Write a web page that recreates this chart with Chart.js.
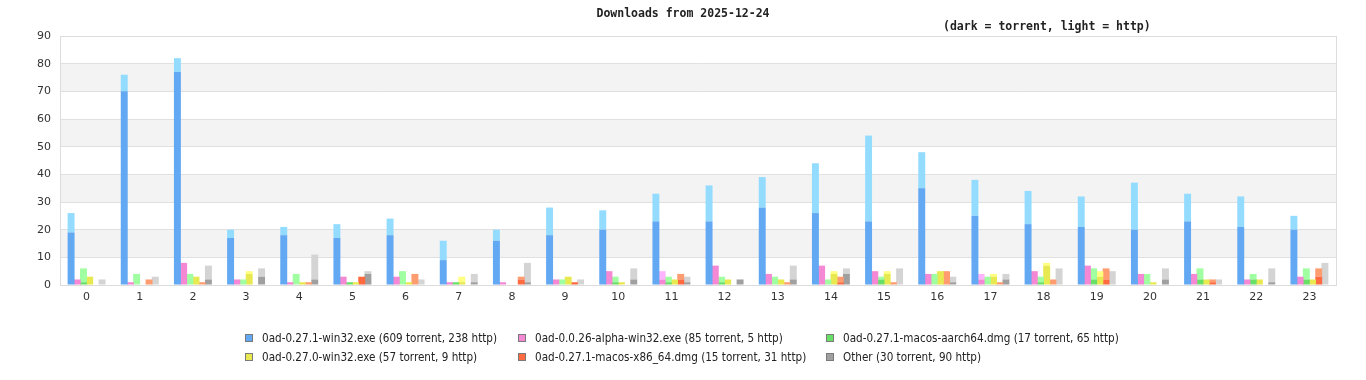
<!DOCTYPE html>
<html lang="en">
<head>
    <meta charset="UTF-8">
    <title>downloads</title>
    <script src="https://cdn.jsdelivr.net/npm/chart.js"></script>
    <style>
        body { margin: 0; background: #fff; }
        #wrap { position: relative; width: 1366px; height: 380px; }
        .head { position: absolute; font: bold 11.5px "DejaVu Sans Mono", monospace; color: #222; white-space: nowrap; line-height: 14px; }
        #legend { position: absolute; left: 245px; top: 331px; display: grid; grid-template-columns: 273px 308px auto; row-gap: 5px;
                  font: 11.6px "DejaVu Sans Condensed", "DejaVu Sans", sans-serif; font-stretch: condensed; color: #222; }
        #legend div { display: flex; align-items: center; height: 14px; white-space: nowrap; }
        #legend span.sw { width: 8px; height: 8px; margin-right: 9px; border: 1px solid #7a7a7a; box-sizing: border-box; }
    </style>
</head>
<body>
<div id="wrap">
    <canvas id="dlChart" width="1366" height="380"></canvas>
    <div class="head" style="left:0;width:1366px;text-align:center;top:6px">Downloads from 2025-12-24</div>
    <div class="head" style="left:943px;top:19px">(dark = torrent, light = http)</div>
    <div id="legend"></div>
</div>
<script>
    // hours of the day
    const hours = ['0','1','2','3','4','5','6','7','8','9','10','11','12','13','14','15','16','17','18','19','20','21','22','23'];
    const yTicks = [0, 10, 20, 30, 40, 50, 60, 70, 80, 90];

    const files = [
        '0ad-0.27.1-win32.exe (609 torrent, 238 http)',
        '0ad-0.0.26-alpha-win32.exe (85 torrent, 5 http)',
        '0ad-0.27.1-macos-aarch64.dmg (17 torrent, 65 http)',
        '0ad-0.27.0-win32.exe (57 torrent, 9 http)',
        '0ad-0.27.1-macos-x86_64.dmg (15 torrent, 31 http)',
        'Other (30 torrent, 90 http)'
    ];

    const win32Torrent   = [19,70,77,17,18,17,18,9,16,18,20,23,23,28,26,23,35,25,22,21,20,23,21,20];
    const win32Http      = [7,6,5,3,3,5,6,7,4,10,7,10,13,11,18,31,13,13,12,11,17,10,11,5];
    const alphaTorrent   = [2,1,8,2,1,3,3,1,1,2,5,2,7,4,7,5,4,2,5,7,4,4,2,3];
    const alphaHttp      = [0,0,0,0,0,0,0,0,0,0,0,3,0,0,0,0,0,2,0,0,0,0,0,0];
    const aarchTorrent   = [1,0,0,0,0,1,0,1,0,0,1,1,1,0,0,2,0,0,1,2,0,2,2,2];
    const aarchHttp      = [5,4,4,2,4,0,5,0,0,2,2,2,2,3,2,1,4,3,2,4,4,4,2,4];
    const oldWinTorrent  = [3,0,3,4,1,1,1,1,0,3,1,2,2,2,4,4,5,3,7,3,1,2,2,2];
    const oldWinHttp     = [0,0,0,1,0,0,0,2,0,0,0,0,0,0,1,1,0,1,1,2,0,0,0,0];
    const x86Torrent     = [0,0,0,0,0,3,0,0,2,1,0,2,0,0,1,0,0,0,0,2,0,1,0,3];
    const x86Http        = [0,2,1,0,1,0,4,0,1,0,0,2,0,1,2,1,5,1,2,4,0,1,0,3];
    const otherTorrent   = [0,0,2,3,2,4,0,1,1,0,2,1,2,2,4,0,1,2,0,0,2,0,1,0];
    const otherHttp      = [2,3,5,3,9,1,2,3,7,2,4,2,0,5,2,6,2,2,6,5,4,2,5,8];

    const torrentData = [win32Torrent, alphaTorrent, aarchTorrent, oldWinTorrent, x86Torrent, otherTorrent];
    const httpData = [win32Http, alphaHttp, aarchHttp, oldWinHttp, x86Http, otherHttp];
    const darkColors = ['#62a8f2', '#f488d4', '#68e068', '#e8e850', '#ff6a40', '#a0a0a0'];
    const lightColors = ['#94dcff', '#ffb4ff', '#a0ffa0', '#ffff80', '#ff9c70', '#d4d4d4'];

    const datasets = [];
    files.forEach((name, i) => {
        datasets.push({ label: name + ' torrent', data: torrentData[i], backgroundColor: darkColors[i], stack: 's' + i });
        datasets.push({ label: name + ' http', data: httpData[i], backgroundColor: lightColors[i], stack: 's' + i });
    });

    // alternating grey bands + frame around the plot
    const bands = {
        id: 'bands',
        beforeDraw(chart) {
            const { ctx, chartArea: a, scales: { y } } = chart;
            ctx.save();
            ctx.fillStyle = '#f3f3f3';
            for (let v = 10; v < 90; v += 20) {
                const top = y.getPixelForValue(v + 10), bot = y.getPixelForValue(v);
                ctx.fillRect(a.left, top, a.right - a.left, bot - top);
            }
            ctx.restore();
        },
        beforeDatasetsDraw(chart) {
            const { ctx, chartArea: a } = chart;
            ctx.save();
            ctx.strokeStyle = '#dcdcdc';
            ctx.lineWidth = 1;
            ctx.strokeRect(a.left + 0.5, a.top + 0.5, a.right - a.left, a.bottom - a.top);
            ctx.restore();
        }
    };

    new Chart(document.getElementById('dlChart'), {
        type: 'bar',
        data: { labels: hours, datasets: datasets },
        options: {
            responsive: false,
            animation: false,
            layout: { padding: { top: 36, right: 30, bottom: 75, left: 0 } },
            datasets: { bar: { categoryPercentage: 0.7, barPercentage: 1.12, borderWidth: 0 } },
            plugins: { legend: { display: false }, title: { display: false }, tooltip: { enabled: false } },
            scales: {
                x: {
                    stacked: true,
                    grid: { display: false, drawTicks: false },
                    border: { color: '#dcdcdc' },
                    ticks: { color: '#333', font: { family: 'DejaVu Sans', size: 11 }, padding: 6, maxRotation: 0 },
                    afterFit(s) { s.height = 20; }
                },
                y: {
                    stacked: true,
                    min: 0,
                    max: 90,
                    afterBuildTicks(s) { s.ticks = yTicks.map(v => ({ value: v })); },
                    grid: { color: '#e0e0e0', drawTicks: false },
                    border: { color: '#dcdcdc' },
                    ticks: { color: '#333', font: { family: 'DejaVu Sans', size: 11 }, padding: 9 },
                    afterFit(s) { s.width = 60; }
                }
            }
        },
        plugins: [bands]
    });

    const legend = document.getElementById('legend');
    files.forEach((name, i) => {
        const item = document.createElement('div');
        item.innerHTML = '<span class="sw" style="background:' + darkColors[i] + '"></span>' + name;
        legend.appendChild(item);
    });
</script>
</body>
</html>
